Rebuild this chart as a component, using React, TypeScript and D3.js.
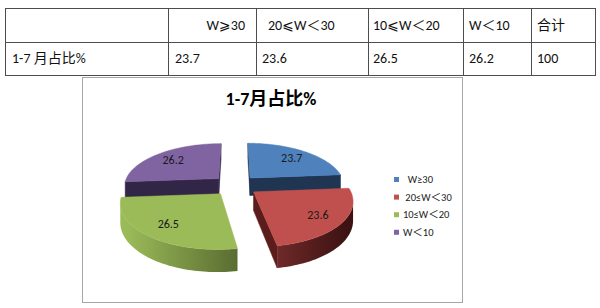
import React from 'react';
import * as d3 from 'd3';

// ---- data ----
const tableHeaders = ['', 'W⩾30', '20⩽W＜30', '10⩽W＜20', 'W＜10', '合计'];
const rowLabel = '1-7 月占比%';
const values = [23.7, 23.6, 26.5, 26.2];
const totalValue = 100;
const chartTitle = '1-7月占比%';
const legendLabels = ['  W≥30', ' 20≤W＜30', '10≤W＜20', 'W＜10'];
const topColors = ['#4F81BD', '#C0504D', '#9BBB59', '#8064A2'];
const wallColors = ['#1F3552', '#5A1D1C', '#4F6228', '#322646'];
const darkColors = ['#142338', '#3d1212', '#2a3514', '#241a33'];

const LATIN = "Carlito, Lato, 'Noto Sans CJK SC', 'DejaVu Sans', sans-serif";

// table layout
const colX = [5, 168, 256, 368, 463, 531, 595];
const rowY = [8, 42, 75];
const headPad = [7, 0, 12, 5, 6, 6];
const cellPad = [7, 7, 6, 5, 6, 6];

// pie projection params
const A = 95, B = 43, K = 0.17, H = 18, E = 0.24, CX = 235, CY = 185.4;
const proj = (X: number, Z: number, bottom = false): [number, number] => {
  const s = 1 / (1 + K * Z);
  return [CX + X * s * A, CY - Z * s * B + (bottom ? H * s : 0)];
};
const area = (pts: [number, number][]) => {
  let s = 0;
  for (let i = 0; i < pts.length; i++) {
    const p = pts[i], q = pts[(i + 1) % pts.length];
    s += p[0] * q[1] - q[0] * p[1];
  }
  return s;
};
const poly = (pts: [number, number][]) => (d3.line()(pts) || '') + 'Z';

export default function App() {
  const arcs = d3.pie<number>().sort(null).value((d) => d)(values);

  const slices = arcs.map((a, i) => {
    const m = (a.startAngle + a.endAngle) / 2;
    const ox = E * Math.sin(m), oz = E * Math.cos(m);
    const rim = (t: number) => [ox + Math.sin(t), oz + Math.cos(t)];
    const n = Math.max(8, Math.ceil((a.endAngle - a.startAngle) / (Math.PI / 120)));
    const angs = d3.range(n + 1).map((k) => a.startAngle + ((a.endAngle - a.startAngle) * k) / n);
    const top: [number, number][] = [proj(ox, oz), ...angs.map((t) => { const r = rim(t); return proj(r[0], r[1]); })];
    const faces: { d: string; fill: string }[] = [];
    const r0 = rim(a.startAngle), r1 = rim(a.endAngle);
    const w0: [number, number][] = [proj(ox, oz), proj(r0[0], r0[1]), proj(r0[0], r0[1], true), proj(ox, oz, true)];
    const w1: [number, number][] = [proj(r1[0], r1[1]), proj(ox, oz), proj(ox, oz, true), proj(r1[0], r1[1], true)];
    if (area(w0) < 0) faces.push({ d: poly(w0), fill: wallColors[i] });
    if (area(w1) < 0) faces.push({ d: poly(w1), fill: wallColors[i] });
    // curved wall: visible contiguous run
    const vis: number[] = [];
    for (let k = 0; k < n; k++) {
      const p = rim(angs[k]), q = rim(angs[k + 1]);
      const quad: [number, number][] = [proj(p[0], p[1]), proj(q[0], q[1]), proj(q[0], q[1], true), proj(p[0], p[1], true)];
      if (area(quad) < 0) vis.push(k);
    }
    let curved: string | null = null;
    if (vis.length) {
      const ks = d3.range(vis[0], vis[vis.length - 1] + 2);
      const tp = ks.map((k) => { const r = rim(angs[k]); return proj(r[0], r[1]); });
      const bt = ks.map((k) => { const r = rim(angs[k]); return proj(r[0], r[1], true); }).reverse();
      curved = poly([...tp, ...bt]);
    }
    const gx1 = CX + (ox - 1) * A, gx2 = CX + (ox + 1) * A;
    const lp = proj(ox + 0.75 * Math.sin(m), oz + 0.75 * Math.cos(m));
    return { i, oz, top: poly(top), faces, curved, gx1, gx2, lp, value: a.data };
  });
  const order = [...slices].sort((a, b) => b.oz - a.oz);

  const rowValues = [...values.map((v) => d3.format('.1f')(v)), String(totalValue)];
  const stops = d3.range(0, 1.0001, 0.1);

  return (
    <svg width={600} height={308} style={{ position: 'absolute', left: 0, top: 0, background: '#fff' }}>
      <defs>
        {slices.map((s) => {
          const shade = d3.interpolateRgb(topColors[s.i], darkColors[s.i]);
          return (
            <linearGradient key={s.i} id={`wall${s.i}`} gradientUnits="userSpaceOnUse" x1={s.gx1} x2={s.gx2} y1={0} y2={0}>
              {stops.map((t, k) => (
                <stop key={k} offset={t} stopColor={shade(t)} />
              ))}
            </linearGradient>
          );
        })}
      </defs>
      {/* table */}
      <g fill="none" stroke="#4d4d4d" strokeWidth={1}>
        <rect x={colX[0] + 0.5} y={rowY[0] + 0.5} width={colX[6] - colX[0]} height={rowY[2] - rowY[0]} />
        <line x1={colX[0]} x2={colX[6]} y1={rowY[1] + 0.5} y2={rowY[1] + 0.5} />
        {colX.slice(1, 6).map((x, k) => (
          <line key={k} x1={x + 0.5} x2={x + 0.5} y1={rowY[0]} y2={rowY[2]} />
        ))}
      </g>
      <g fontFamily={LATIN} fontSize={14} fill="#111">
        {tableHeaders.map((h, k) =>
          k === 1 ? (
            <text key={k} x={colX[2] - 11} y={30} textAnchor="end">{h}</text>
          ) : (
            <text key={k} x={colX[k] + headPad[k]} y={30}>{h}</text>
          )
        )}
        <text x={colX[0] + cellPad[0]} y={63}>{rowLabel}</text>
        {rowValues.map((v, k) => (
          <text key={k} x={colX[k + 1] + cellPad[k + 1]} y={63}>{v}</text>
        ))}
      </g>

      {/* chart frame */}
      <rect x={82.5} y={77.5} width={380} height={225} fill="#fff" stroke="#a6a6a6" strokeWidth={1} />
      <text x={271} y={105} textAnchor="middle" fontFamily={LATIN} fontWeight="bold" fontSize={18} fill="#000">
        {chartTitle}
      </text>

      {/* 3D pie */}
      {order.map((s) => (
        <g key={s.i}>
          {s.faces.map((f, k) => (
            <path key={k} d={f.d} fill={f.fill} stroke={f.fill} strokeWidth={0.5} strokeLinejoin="round" />
          ))}
          {s.curved && <path d={s.curved} fill={`url(#wall${s.i})`} />}
          <path d={s.top} fill={topColors[s.i]} stroke={topColors[s.i]} strokeWidth={0.5} />
        </g>
      ))}
      {slices.map((s) => (
        <text key={s.i} x={s.lp[0]} y={s.lp[1]} dy="0.35em" textAnchor="middle" fontFamily={LATIN} fontSize={12} fill="#1a1a1a">
          {d3.format('.1f')(s.value)}
        </text>
      ))}

      {/* legend */}
      <g fontFamily={LATIN} fontSize={10.5} fill="#222">
        {legendLabels.map((l, k) => (
          <g key={k} transform={`translate(394,${177 + k * 17.6})`}>
            <rect width={5} height={5} fill={topColors[k]} />
            <text x={9} y={2.5} dy="0.35em" style={{ whiteSpace: 'pre' }}>{l}</text>
          </g>
        ))}
      </g>
    </svg>
  );
}
